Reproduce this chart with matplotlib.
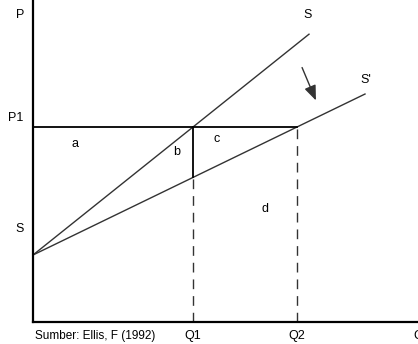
import matplotlib.pyplot as plt
import numpy as np

plt.rcParams['font.family'] = ['Liberation Sans', 'DejaVu Sans']

# harga dan kuantitas (satuan bebas)
p_intercept = 0.67
p1 = 1.95
q1 = 1.60
q2 = 2.64
q_end_s = 2.76
q_end_s2 = 3.32

slope_s = (p1 - p_intercept) / q1
slope_s2 = (p1 - p_intercept) / q2

area_labels = ['a', 'b', 'c', 'd']
area_pos = [(0.42, 1.78), (1.44, 1.70), (1.84, 1.83), (2.32, 1.13)]

fig = plt.figure(figsize=(4.18, 3.44), dpi=100)
ax = fig.add_axes([33 / 418, 22 / 344, 1 - 33 / 418, 322 / 344])
ax.set_xlim(0, 3.85)
ax.set_ylim(0, 3.22)

q = np.array([0, q_end_s])
ax.plot(q, p_intercept + slope_s * q, color='#333333', lw=1.0, clip_on=False)
q = np.array([0, q_end_s2])
ax.plot(q, p_intercept + slope_s2 * q, color='#333333', lw=1.0, clip_on=False)

ax.plot([0, q2], [p1, p1], color='black', lw=1.3)
ax.plot([q1, q1], [p1, p_intercept + slope_s2 * q1], color='black', lw=1.3)
ax.plot([q1, q1], [0, p_intercept + slope_s2 * q1], color='#333333', lw=1.0,
        ls=(0, (7, 5)))
ax.plot([q2, q2], [0, p1], color='#333333', lw=1.0, ls=(0, (7, 5)))

ax.annotate('', xy=(2.84, 2.19), xytext=(2.68, 2.57),
            arrowprops=dict(arrowstyle='-|>,head_width=0.3,head_length=0.75',
                            color='#333333', lw=1.0, mutation_scale=12))

fs = 9
for lab, (x, y) in zip(area_labels, area_pos):
    ax.text(x, y, lab, fontsize=fs, ha='center', va='center')

ax.text(-0.13, 3.07, 'P', fontsize=fs, ha='center', va='center', clip_on=False)
ax.text(-0.17, 1.95 + 0.09, 'P1', fontsize=fs, ha='center', va='center', clip_on=False)
ax.text(-0.13, 0.93, 'S', fontsize=fs, ha='center', va='center', clip_on=False)
ax.text(2.75, 3.07, 'S', fontsize=fs, ha='center', va='center')
ax.text(3.33, 2.42, "S'", fontsize=fs, ha='center', va='center')

ax.spines['top'].set_visible(False)
ax.spines['right'].set_visible(False)
ax.spines['left'].set_linewidth(1.6)
ax.spines['bottom'].set_linewidth(1.6)
ax.set_xticks([q1, q2, 3.85])
ax.set_xticklabels(['Q1', 'Q2', 'Q'], fontsize=fs)
ax.tick_params(axis='x', length=0, pad=6)
ax.set_yticks([])
ax.text(0.62, -0.14, 'Sumber: Ellis, F (1992)', fontsize=8.5, ha='center',
        va='center', clip_on=False)

fig.savefig('out.png', dpi=100)
